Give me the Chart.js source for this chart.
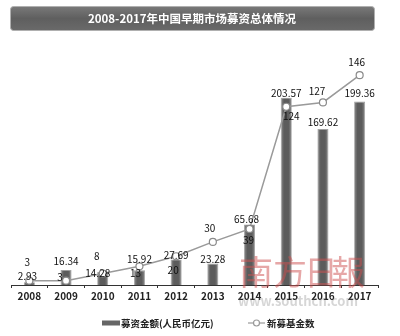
<!DOCTYPE html>
<html>
<head>
<meta charset="utf-8">
<script src="https://cdn.jsdelivr.net/npm/chart.js@4"></script>
<style>
  body { margin: 0; background: #fff; }
  #wrap { width: 400px; height: 336px; position: relative; }
</style>
</head>
<body>
<div id="wrap"><canvas id="myChart" width="400" height="336"></canvas></div>
<script>
var years = ['2008', '2009', '2010', '2011', '2012', '2013', '2014', '2015', '2016', '2017'];
var raised = [2.93, 16.34, 14.28, 15.92, 27.69, 23.28, 65.68, 203.57, 169.62, 199.36];
var newFunds = [3, 3, 8, 13, 20, 30, 39, 124, 127, 146];

var titleText = '2008-2017年中国早期市场募资总体情况';
var raisedLabel = '募资金额(人民币亿元)';
var fundsLabel = '新募基金数';

// label nudges (px) so the value labels don't collide
var raisedLabelShift = [[-2, -6], [0, -9], [-5, 1], [0, -11], [0, -4], [0, -4], [-3, -5], [0, -5], [0, -7], [0, -8]];
var fundLabelShift = [[-2, -18], [-6, -3], [-6, -17], [-4, 7], [-3, 14], [-3, -14], [-1, 11], [5, 9], [-6, -11], [-3, -13]];

var cjk = '"Noto Sans CJK SC", "Noto Sans", sans-serif';

// grey bars, lighter at the edges
function barFill(c) {
    var xs = c.chart.scales.x;
    if (!xs || !xs.width) return '#666';
    var px = xs.getPixelForValue(c.dataIndex);
    var half = xs.width / years.length * 0.3 / 2;
    var g = c.chart.ctx.createLinearGradient(px - half, 0, px + half, 0);
    g.addColorStop(0, '#8e8e8e');
    g.addColorStop(0.3, '#5c5c5c');
    g.addColorStop(0.7, '#5c5c5c');
    g.addColorStop(1, '#8e8e8e');
    return g;
}

var decorations = {
    id: 'decorations',
    beforeDraw: function (chart) {
        var ctx = chart.ctx;
        // title bar
        ctx.save();
        var g = ctx.createLinearGradient(0, 6, 0, 31);
        g.addColorStop(0, '#7a7a7a');
        g.addColorStop(0.5, '#5f5f5f');
        g.addColorStop(1, '#6a6a6a');
        ctx.beginPath();
        ctx.roundRect(10.5, 6.5, 364, 24, 3);
        ctx.fillStyle = g;
        ctx.fill();
        ctx.strokeStyle = '#b0b0b0';
        ctx.lineWidth = 1;
        ctx.stroke();
        ctx.fillStyle = '#fff';
        ctx.font = 'bold 11.5px ' + cjk;
        ctx.textAlign = 'center';
        ctx.textBaseline = 'middle';
        ctx.fillText(titleText, 192, 19);
        ctx.restore();
    },
    afterDatasetsDraw: function (chart) {
        var ctx = chart.ctx;
        ctx.save();
        ctx.fillStyle = '#111';
        ctx.font = '10px ' + cjk;
        ctx.textAlign = 'center';
        ctx.textBaseline = 'middle';

        chart.getDatasetMeta(0).data.forEach(function (bar, i) {
            var s = raisedLabelShift[i];
            ctx.fillText(raised[i].toFixed(2), bar.x + s[0], bar.y + s[1]);
        });

        chart.getDatasetMeta(1).data.forEach(function (p, i) {
            var s = fundLabelShift[i];
            ctx.fillText(String(newFunds[i]), p.x + s[0], p.y + s[1]);
        });
        ctx.restore();
    },
    afterDraw: function (chart) {
        var ctx = chart.ctx;
        ctx.save();
        // legend
        var ly = 323;
        ctx.fillStyle = '#666';
        ctx.fillRect(102, ly - 2.5, 18, 5);
        ctx.fillStyle = '#222';
        ctx.font = 'bold 9.5px ' + cjk;
        ctx.textBaseline = 'middle';
        ctx.fillText(raisedLabel, 121, ly);
        ctx.strokeStyle = '#999';
        ctx.lineWidth = 1.2;
        ctx.beginPath();
        ctx.moveTo(248, ly);
        ctx.lineTo(265, ly);
        ctx.stroke();
        ctx.beginPath();
        ctx.arc(256.5, ly, 3, 0, Math.PI * 2);
        ctx.fillStyle = '#fff';
        ctx.fill();
        ctx.stroke();
        ctx.fillStyle = '#222';
        ctx.fillText(fundsLabel, 267, ly);

        // newspaper watermark
        ctx.textAlign = 'center';
        ctx.fillStyle = 'rgba(120,120,120,0.3)';
        ctx.font = 'bold 13px ' + cjk;
        ctx.fillText('www.southcn.com', 298, 301);
        ctx.fillStyle = 'rgba(205,80,80,0.5)';
        ctx.font = '34px ' + cjk;
        var chars = ['南', '方', '日', '報'];
        var cx = [256, 290, 321, 348];
        chars.forEach(function (c, i) {
            ctx.fillText(c, cx[i], 272);
        });
        ctx.restore();
    }
};

function createChart() {
    var ctx = document.getElementById('myChart').getContext('2d');
    new Chart(ctx, {
        data: {
            labels: years,
            datasets: [
                {
                    type: 'bar',
                    label: raisedLabel,
                    data: raised,
                    backgroundColor: barFill,
                    borderColor: '#9a9a9a',
                    borderWidth: 0.8,
                    barPercentage: 0.3,
                    categoryPercentage: 1,
                    yAxisID: 'y',
                    order: 1
                },
                {
                    type: 'line',
                    label: fundsLabel,
                    data: newFunds,
                    borderColor: '#9a9a9a',
                    borderWidth: 1.5,
                    pointBackgroundColor: '#fff',
                    pointBorderColor: '#8a8a8a',
                    pointBorderWidth: 1.2,
                    pointRadius: 3.5,
                    tension: 0,
                    yAxisID: 'y1',
                    order: 0
                }
            ]
        },
        options: {
            responsive: false,
            animation: false,
            layout: { padding: { left: 11, right: 22, top: 55, bottom: 32 } },
            plugins: {
                legend: { display: false },
                title: { display: false },
                tooltip: { enabled: false }
            },
            scales: {
                x: {
                    offset: true,
                    grid: {
                        offset: true,
                        drawOnChartArea: false,
                        tickLength: 3,
                        color: '#333'
                    },
                    border: { color: '#333', width: 1 },
                    ticks: {
                        color: '#222',
                        padding: 2,
                        font: { family: cjk, size: 10, weight: 'bold' }
                    }
                },
                y: { display: false, min: 0, max: 250 },
                y1: { display: false, min: 0, max: 160, position: 'right' }
            }
        },
        plugins: [decorations]
    });
}
createChart();
</script>
</body>
</html>
